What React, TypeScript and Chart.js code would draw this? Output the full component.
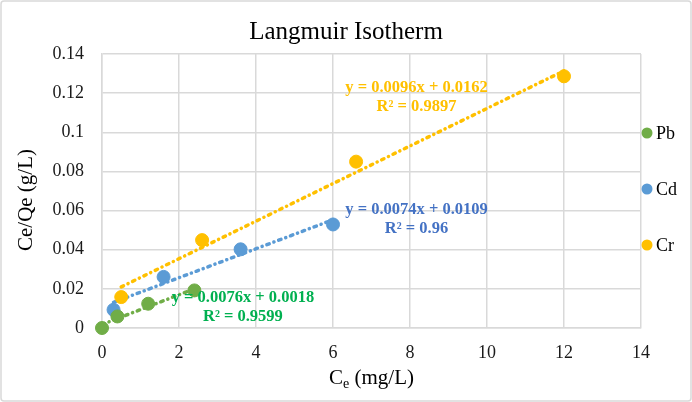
import React, { useEffect, useRef } from "react";
import { Chart, registerables } from "chart.js";

Chart.register(...registerables);

// ---- data ----
const seriesNames = ["Pb", "Cd", "Cr"];
const pbX = [0, 0.4, 1.2, 2.4];
const pbY = [0, 0.0059, 0.0124, 0.0192];
const cdX = [0.3, 1.6, 3.6, 6.0];
const cdY = [0.0093, 0.0261, 0.0402, 0.0529];
const crX = [0.5, 2.6, 6.6, 12];
const crY = [0.0158, 0.0449, 0.085, 0.1286];
const slopes = [0.0076, 0.0074, 0.0096];
const intercepts = [0.0018, 0.0109, 0.0162];
const r2Values = ["0.9599", "0.96", "0.9897"];
const xTickStep = 2;
const yTickStep = 0.02;

// ---- styles / placement ----
const markerColors = ["#70AD47", "#5B9BD5", "#FFC000"];
const labelColors = ["#00B050", "#4472C4", "#FFC000"];
const labelAnchors = [
  { x: 3.66, y: 0.0155 },
  { x: 8.17, y: 0.0604 },
  { x: 8.17, y: 0.123 },
];
const FONT = "'Liberation Serif', 'Times New Roman', serif";

const xs = [pbX, cdX, crX];
const ys = [pbY, cdY, crY];

const decoPlugin = {
  id: "deco",
  beforeDraw(chart: any) {
    const { ctx, width, height } = chart;
    ctx.save();
    ctx.fillStyle = "#ffffff";
    ctx.fillRect(0, 0, width, height);
    ctx.strokeStyle = "#d9d9d9";
    ctx.lineWidth = 1.5;
    ctx.beginPath();
    (ctx as any).roundRect
      ? (ctx as any).roundRect(1, 1, width - 2, height - 2, 3)
      : ctx.rect(1, 1, width - 2, height - 2);
    ctx.stroke();
    ctx.restore();
  },
  afterDraw(chart: any) {
    const { ctx, chartArea } = chart;
    const xs_ = chart.scales.x;
    const ys_ = chart.scales.y;
    ctx.save();
    // title
    ctx.fillStyle = "#000";
    ctx.textAlign = "center";
    ctx.textBaseline = "middle";
    ctx.font = `25px ${FONT}`;
    ctx.fillText("Langmuir Isotherm", 346, 32);

    // y axis title
    ctx.save();
    ctx.translate(26, 200);
    ctx.rotate(-Math.PI / 2);
    ctx.font = `21px ${FONT}`;
    ctx.fillText("Ce/Qe (g/L)", 0, 0);
    ctx.restore();

    // x axis title with subscript
    const cx = (chartArea.left + chartArea.right) / 2;
    const ty = 378;
    ctx.font = `21px ${FONT}`;
    const wC = ctx.measureText("C").width;
    const rest = " (mg/L)";
    const wRest = ctx.measureText(rest).width;
    ctx.font = `14px ${FONT}`;
    const wE = ctx.measureText("e").width;
    const total = wC + wE + wRest;
    let sx = cx - total / 2;
    ctx.textAlign = "left";
    ctx.font = `21px ${FONT}`;
    ctx.fillText("C", sx, ty);
    sx += wC;
    ctx.font = `14px ${FONT}`;
    ctx.fillText("e", sx, ty + 6);
    sx += wE;
    ctx.font = `21px ${FONT}`;
    ctx.fillText(rest, sx, ty);

    // trendline labels
    ctx.textAlign = "center";
    ctx.font = `bold 16.5px ${FONT}`;
    for (let i = 0; i < 3; i++) {
      const px = xs_.getPixelForValue(labelAnchors[i].x);
      const py = ys_.getPixelForValue(labelAnchors[i].y);
      ctx.fillStyle = labelColors[i];
      const eq = `y = ${slopes[i]}x + ${intercepts[i]}`;
      ctx.fillText(eq, px, py);
      ctx.fillText(`R² = ${r2Values[i]}`, px, py + 19);
    }

    // legend
    const midY = (chartArea.top + chartArea.bottom) / 2 - 2;
    const spacing = 56;
    ctx.textAlign = "left";
    ctx.font = `18px ${FONT}`;
    for (let i = 0; i < 3; i++) {
      const ly = midY + (i - 1) * spacing;
      ctx.fillStyle = markerColors[i];
      ctx.beginPath();
      ctx.arc(647, ly, 5.5, 0, Math.PI * 2);
      ctx.fill();
      ctx.fillStyle = "#000";
      ctx.fillText(seriesNames[i], 656, ly + 1);
    }
    ctx.restore();
  },
};

export default function App() {
  const ref = useRef<HTMLCanvasElement>(null);
  useEffect(() => {
    if (!ref.current) return;
    const datasets: any[] = [];
    for (let i = 0; i < 3; i++) {
      datasets.push({
        type: "scatter",
        label: seriesNames[i],
        data: xs[i].map((x, j) => ({ x, y: ys[i][j] })),
        backgroundColor: markerColors[i],
        borderColor: markerColors[i],
        pointRadius: 6.5,
        pointHoverRadius: 6.5,
        clip: false,
        order: 0,
      });
    }
    for (let i = 0; i < 3; i++) {
      const x0 = Math.min(...xs[i]);
      const x1 = Math.max(...xs[i]);
      datasets.push({
        type: "line",
        label: seriesNames[i] + " trend",
        data: [
          { x: x0, y: slopes[i] * x0 + intercepts[i] },
          { x: x1, y: slopes[i] * x1 + intercepts[i] },
        ],
        borderColor: markerColors[i],
        borderWidth: 3.5,
        borderDash: [2.5, 5, 0.1, 5],
        borderCapStyle: "round",
        pointRadius: 0,
        fill: false,
        clip: false,
        order: 1,
      });
    }
    const chart = new Chart(ref.current, {
      type: "scatter",
      data: { datasets },
      options: {
        animation: false,
        responsive: false,
        layout: { padding: { left: 0, right: 51, top: 54, bottom: 0 } },
        plugins: {
          legend: { display: false },
          title: { display: false },
          tooltip: { enabled: false },
        },
        scales: {
          x: {
            type: "linear",
            min: 0,
            max: 14,
            ticks: {
              stepSize: xTickStep,
              padding: 14,
              color: "#1a1a1a",
              font: { family: FONT, size: 18 },
            },
            grid: { color: "#d9d9d9", drawTicks: false, lineWidth: 1.5 },
            border: { color: "#d9d9d9", width: 1.5 },
            afterFit: (s: any) => {
              s.height = 74;
            },
          },
          y: {
            type: "linear",
            min: 0,
            max: 0.14,
            ticks: {
              stepSize: yTickStep,
              padding: 18,
              color: "#1a1a1a",
              font: { family: FONT, size: 18 },
              callback: (v: any) => String(Number(Number(v).toFixed(2))),
            },
            grid: { color: "#d9d9d9", drawTicks: false, lineWidth: 1.5 },
            border: { color: "#d9d9d9", width: 1.5 },
            afterFit: (s: any) => {
              s.width = 102;
            },
          },
        },
      },
      plugins: [decoPlugin],
    } as any);
    return () => chart.destroy();
  }, []);
  return (
    <div style={{ position: "absolute", left: 0, top: 0, width: 692, height: 402 }}>
      <canvas ref={ref} width={692} height={402} style={{ width: 692, height: 402 }} />
    </div>
  );
}
